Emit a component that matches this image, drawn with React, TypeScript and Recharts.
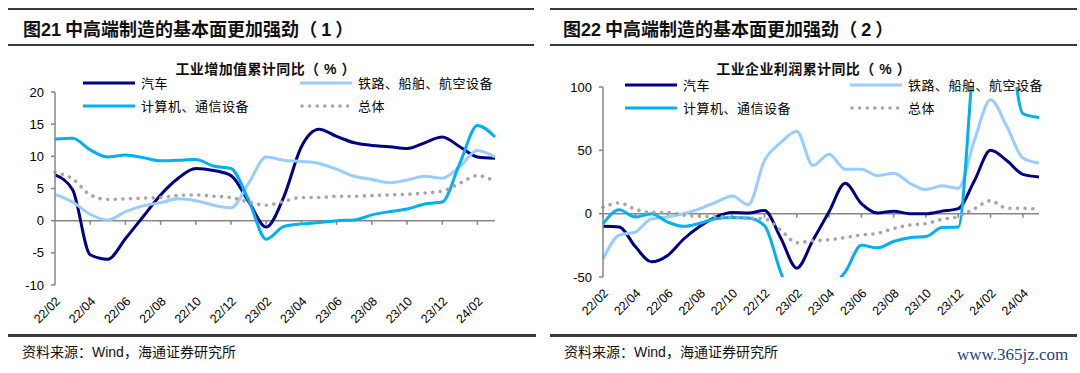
import { LineChart, Line, XAxis, YAxis, ReferenceLine } from 'recharts';

// 工业增加值累计同比（%）
const monthsA = [
  '22/02', '22/03', '22/04', '22/05', '22/06', '22/07', '22/08', '22/09', '22/10', '22/11', '22/12',
  '23/01', '23/02', '23/03', '23/04', '23/05', '23/06', '23/07', '23/08', '23/09', '23/10', '23/11', '23/12',
  '24/01', '24/02', '24/03',
];
const carA = [7.1, 4.8, -5.3, -6.0, -2.8, 0.6, 4.0, 6.6, 8.1, 7.8, 7.0, 3.0, -1.0, 3.7, 11.5, 14.2, 13.1, 12.1, 11.7, 11.5, 11.2, 12.1, 13.0, 11.5, 9.9, 9.7];
const railA = [4.1, 2.9, 1.0, 0.1, 1.4, 2.3, 2.8, 3.4, 3.1, 2.4, 2.0, 5.8, 9.9, 9.4, 9.2, 8.9, 8.0, 6.9, 6.4, 5.9, 6.3, 6.9, 6.6, 8.4, 10.9, 9.9];
const compA = [12.7, 12.8, 11.0, 9.9, 10.2, 9.8, 9.3, 9.4, 9.5, 8.5, 8.1, 3.2, -2.9, -0.9, -0.5, -0.3, 0.0, 0.1, 0.9, 1.4, 1.8, 2.6, 2.9, 8.9, 14.8, 13.0];
const totalA = [7.5, 6.5, 4.0, 3.3, 3.4, 3.5, 3.6, 3.9, 4.0, 3.8, 3.6, 2.9, 2.4, 3.0, 3.6, 3.6, 3.8, 3.8, 3.9, 4.0, 4.1, 4.3, 4.6, 5.8, 7.0, 6.1];
const ticksA = [-10, -5, 0, 5, 10, 15, 20];

// 工业企业利润累计同比（%）
const monthsB = [
  '22/02', '22/03', '22/04', '22/05', '22/06', '22/07', '22/08', '22/09', '22/10', '22/11', '22/12',
  '23/01', '23/02', '23/03', '23/04', '23/05', '23/06', '23/07', '23/08', '23/09', '23/10', '23/11', '23/12',
  '24/01', '24/02', '24/03', '24/04', '24/05',
];
const carB = [-10, -10.5, -26, -38, -33, -20, -10, -2.5, 1.0, 0.5, 2.5, -19, -43, -21, 1.5, 24, 8, 0.5, 2, 0, 0, 2, 4, 26, 50, 42, 31, 29];
const railB = [-36, -17, -14.5, -4, -2.6, 0, 4, 9, 14, 7, 42, 56, 65, 38, 47, 35, 35, 30, 32, 24, 19, 22, 20, 58, 90, 69, 44, 40];
const compB = [-8, 3, -2.6, 0, -6.6, -10, -7.5, -4, -3, -3.4, -9.5, -46, -75, -72, -60, -46, -25, -27, -22, -19, -18, -11, -10.6, 130, 220, 160, 79, 76];
const totalB = [5.0, 8.5, 3.5, 1.0, 1.0, -1.1, -2.1, -2.3, -3.0, -3.6, -4.0, -13, -22.9, -21.4, -20.6, -18.8, -16.8, -15.5, -11.7, -9.0, -7.8, -4.4, -2.3, 4.0, 10.2, 4.3, 4.3, 3.4];
const ticksB = [-50, 0, 50, 100];

const names = ['汽车', '铁路、船舶、航空设备', '计算机、通信设备', '总体'];
const colors = ['#000080', '#99CCFF', '#00B0F0', '#A6A6A6'];

const dataA = monthsA.map((m, i) => ({ m, car: carA[i], rail: railA[i], comp: compA[i], total: totalA[i] }));
const dataB = monthsB.map((m, i) => ({ m, car: carB[i], rail: railB[i], comp: compB[i], total: totalB[i] }));

const axisGrey = '#868686';
const cjk = '"Noto Sans CJK SC", "Noto Sans", sans-serif';
const latin = '"Liberation Sans", Arial, sans-serif';

function AngledTick(props: any) {
  const { x, y, payload } = props;
  return (
    <g transform={`translate(${x + 6},${y + 17})`}>
      <text textAnchor="end" transform="rotate(-45)" fontSize={12.5} fontFamily={latin} fill="#000">
        {payload.value}
      </text>
    </g>
  );
}

function LegendBlock({ left, top, colGap }: { left: number; top: number; colGap: number }) {
  return (
    <div
      style={{
        position: 'absolute',
        left,
        top,
        display: 'grid',
        gridTemplateColumns: `${colGap}px auto`,
        fontFamily: cjk,
        fontSize: 13,
        lineHeight: '15px',
        letterSpacing: 0.5,
        color: '#000',
      }}
    >
      {names.map((n, i) => (
        <div key={n} style={{ display: 'flex', alignItems: 'center', height: 23, whiteSpace: 'nowrap' }}>
          <svg width={54} height={8} style={{ marginRight: 4 }}>
            {i === 3 ? (
              <line x1={2} y1={4} x2={52} y2={4} stroke={colors[i]} strokeWidth={3.6} strokeDasharray="0.01 7.6" strokeLinecap="round" />
            ) : (
              <line x1={0} y1={4} x2={52} y2={4} stroke={colors[i]} strokeWidth={3} />
            )}
          </svg>
          <span>{n}</span>
        </div>
      ))}
    </div>
  );
}

function Series() {
  return [
    <Line key="car" dataKey="car" name={names[0]} type="monotone" stroke={colors[0]} strokeWidth={3} dot={false} isAnimationActive={false} />,
    <Line key="rail" dataKey="rail" name={names[1]} type="monotone" stroke={colors[1]} strokeWidth={3} dot={false} isAnimationActive={false} />,
    <Line key="comp" dataKey="comp" name={names[2]} type="monotone" stroke={colors[2]} strokeWidth={3} dot={false} isAnimationActive={false} />,
    <Line key="total" dataKey="total" name={names[3]} type="monotone" stroke={colors[3]} strokeWidth={3.6} strokeDasharray="0.01 7.6" strokeLinecap="round" dot={false} isAnimationActive={false} />,
  ];
}

function Rule({ left, top, width, height }: { left: number; top: number; width: number; height: number }) {
  return <div style={{ position: 'absolute', left, top, width, height, background: '#3a3a3a' }} />;
}

function Heading({ left, num, part }: { left: number; num: string; part: string }) {
  return (
    <div style={{ position: 'absolute', left, top: 16, fontFamily: cjk, fontSize: 18, fontWeight: 700, lineHeight: '24px', color: '#111', whiteSpace: 'nowrap' }}>
      图<span style={{ fontFamily: latin }}>{num}</span> 中高端制造的基本面更加强劲
      <span style={{ letterSpacing: 4 }}>（<span style={{ fontFamily: latin }}>{part}</span>）</span>
    </div>
  );
}

function SubTitle({ center, text }: { center: number; text: string }) {
  return (
    <div style={{ position: 'absolute', left: center - 150, width: 300, top: 60, textAlign: 'center', fontFamily: cjk, fontSize: 14, fontWeight: 700, letterSpacing: 0.4, lineHeight: '16px', color: '#111', whiteSpace: 'nowrap' }}>
      {text}
      <span style={{ letterSpacing: 5 }}>（<span style={{ fontFamily: latin }}>%</span>）</span>
    </div>
  );
}

function Source({ left }: { left: number }) {
  return (
    <div style={{ position: 'absolute', left, top: 342, fontFamily: cjk, fontSize: 14, lineHeight: '18px', color: '#111', whiteSpace: 'nowrap' }}>
      资料来源：<span style={{ fontFamily: latin }}>Wind</span>，海通证券研究所
    </div>
  );
}

export default function App() {
  const zeroTicksA = monthsA.filter((_, i) => i % 2 === 0);
  const zeroTicksB = monthsB.filter((_, i) => i % 2 === 0);
  return (
    <div style={{ position: 'absolute', left: 0, top: 0, width: 1080, height: 373, background: '#fff', overflow: 'hidden' }}>
      {/* left panel */}
      <Rule left={8} top={8} width={526} height={2} />
      <Heading left={23} num="21" part="1" />
      <Rule left={8} top={44} width={526} height={2} />
      <SubTitle center={268} text="工业增加值累计同比" />
      <div style={{ position: 'absolute', left: 0, top: 0 }}>
        <LineChart width={540} height={340} data={dataA} margin={{ top: 92, right: 45, bottom: 10, left: 5 }}>
          <XAxis dataKey="m" interval={1} axisLine={false} tickLine={false} tickSize={0} tickMargin={0} height={45} tick={<AngledTick />} />
          <YAxis
            domain={[-10, 20]}
            ticks={ticksA}
            interval={0}
            width={50}
            tickSize={4}
            tickMargin={7}
            axisLine={{ stroke: axisGrey, strokeWidth: 1.5 }}
            tickLine={{ stroke: axisGrey, strokeWidth: 1.5 }}
            tick={{ fontSize: 13, fill: '#000', fontFamily: latin }}
            allowDataOverflow
          />
          <ReferenceLine y={0} stroke={axisGrey} strokeWidth={1.5} />
          {zeroTicksA.map((c) => (
            <ReferenceLine key={c} segment={[{ x: c, y: 0 }, { x: c, y: -0.65 }]} stroke={axisGrey} strokeWidth={1.5} />
          ))}
          {Series()}
        </LineChart>
      </div>
      <LegendBlock left={83} top={71} colGap={217} />
      <Rule left={8} top={334} width={528} height={3} />
      <Source left={22} />

      {/* right panel */}
      <Rule left={550} top={8} width={527} height={2} />
      <Heading left={563} num="22" part="2" />
      <Rule left={550} top={44} width={527} height={2} />
      <SubTitle center={816} text="工业企业利润累计同比" />
      <div style={{ position: 'absolute', left: 540, top: 0 }}>
        <LineChart width={540} height={340} data={dataB} margin={{ top: 87, right: 41, bottom: 10, left: 5 }}>
          <XAxis dataKey="m" interval={1} axisLine={false} tickLine={false} tickSize={0} tickMargin={0} height={53} tick={<AngledTick />} />
          <YAxis
            domain={[-50, 100]}
            ticks={ticksB}
            interval={0}
            width={58}
            tickSize={4}
            tickMargin={7}
            axisLine={{ stroke: axisGrey, strokeWidth: 1.5 }}
            tickLine={{ stroke: axisGrey, strokeWidth: 1.5 }}
            tick={{ fontSize: 13, fill: '#000', fontFamily: latin }}
            allowDataOverflow
          />
          <ReferenceLine y={0} stroke={axisGrey} strokeWidth={1.5} />
          {zeroTicksB.map((c) => (
            <ReferenceLine key={c} segment={[{ x: c, y: 0 }, { x: c, y: -3.2 }]} stroke={axisGrey} strokeWidth={1.5} />
          ))}
          {Series()}
        </LineChart>
      </div>
      <LegendBlock left={625} top={73} colGap={225} />
      <Rule left={550} top={334} width={527} height={3} />
      <Source left={564} />
      <div style={{ position: 'absolute', left: 957, top: 344, fontFamily: '"Liberation Serif", serif', fontSize: 17, lineHeight: '22px', color: '#1F3F7F', whiteSpace: 'nowrap' }}>
        www.365jz.com
      </div>
    </div>
  );
}
